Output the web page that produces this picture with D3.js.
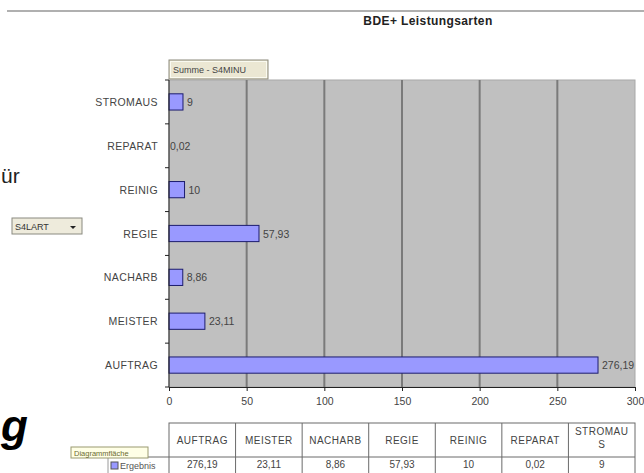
<!DOCTYPE html>
<html><head><meta charset="utf-8">
<script src="https://cdn.jsdelivr.net/npm/d3@7"></script>
<style>
html,body{margin:0;padding:0;background:#fff;overflow:hidden;}
svg{display:block;font-family:"Liberation Sans",Arial,sans-serif;}
</style></head>
<body>
<svg id="c" width="644" height="473"></svg>
<script>
// ---- data ----
const categories = ["AUFTRAG","MEISTER","NACHARB","REGIE","REINIG","REPARAT","STROMAUS"];
const values = [276.19, 23.11, 8.86, 57.93, 10, 0.02, 9];
const valueLabels = ["276,19","23,11","8,86","57,93","10","0,02","9"];
const xTicks = [0, 50, 100, 150, 200, 250, 300];
const title = "BDE+ Leistungsarten";
const fieldButton = "Summe - S4MINU";
const pageButton = "S4LART";
const rowLabel = "Ergebnis";
const tooltipText = "Diagrammfläche";
const sideText = "ür";
const sideLetter = "g";

const svg = d3.select("#c");
const L = 169, R = 635, T = 80, B = 387;

const x = d3.scaleLinear().domain([0, 300]).range([L, R]);
const y = d3.scaleBand().domain(categories.slice().reverse()).range([T, B]).paddingInner(0.63).paddingOuter(0.315);
const yb = d3.scaleBand().domain(categories.slice().reverse()).range([T, B]);

// top rule
svg.append("line").attr("x1",7).attr("x2",644).attr("y1",11).attr("y2",11)
  .attr("stroke","#b0b0b0").attr("stroke-width",2);

// title
svg.append("text").attr("x",428).attr("y",25).attr("text-anchor","middle")
  .attr("font-size",12).attr("font-weight","bold").attr("fill","#222")
  .attr("letter-spacing",0.4).text(title);

// side fragments
svg.append("text").attr("x",1).attr("y",183)
  .attr("font-size",21).attr("fill","#222").text(sideText);
svg.append("text").attr("x",1).attr("y",441)
  .attr("font-size",44).attr("font-weight","bold").attr("font-style","italic")
  .attr("fill","#000").text(sideLetter);

// page field dropdown
const pg = svg.append("g").attr("transform","translate(12,218)");
pg.append("rect").attr("width",70).attr("height",16).attr("fill","#eeebdc")
  .attr("stroke","#8a8a80");
pg.append("text").attr("x",3).attr("y",11.5).attr("font-size",9).attr("fill","#333").text(pageButton);
pg.append("path").attr("d","M58,8 L64,8 L61,11 Z").attr("fill","#222");

// plot background
svg.append("rect").attr("x",L).attr("y",T).attr("width",R-L).attr("height",B-T)
  .attr("fill","#c0c0c0").attr("stroke","#a8a8a8");

// gridlines
svg.append("g").selectAll("line").data(xTicks.filter(d=>d>0 && d<300)).join("line")
  .attr("x1",d=>x(d)).attr("x2",d=>x(d)).attr("y1",T).attr("y2",B)
  .attr("stroke","#7a7a7a").attr("stroke-width",2);

// bars
svg.append("g").selectAll("rect").data(categories).join("rect")
  .attr("x",x(0)).attr("y",d=>y(d))
  .attr("width",(d,i)=>Math.max(0.01, x(values[i])-x(0)))
  .attr("height",y.bandwidth())
  .attr("fill","#9999ff").attr("stroke",(d,i)=>values[i]<0.5?"none":"#1c1c6e").attr("stroke-width",1);

// value labels
svg.append("g").selectAll("text").data(categories).join("text")
  .attr("x",(d,i)=>x(values[i])+ (values[i]<0.5?1:4))
  .attr("y",d=>y(d)+y.bandwidth()/2+4)
  .attr("font-size",10.5).attr("fill","#444").text((d,i)=>valueLabels[i]);

// y axis
const yAxis = svg.append("g").attr("transform",`translate(${L},0)`);
yAxis.append("line").attr("x1",0).attr("x2",0).attr("y1",T).attr("y2",B).attr("stroke","#222");
yAxis.selectAll("line.t").data(categories.concat(["_end"])).join("line").attr("class","t")
  .attr("x1",-4).attr("x2",0)
  .attr("y1",(d,i)=> i<categories.length? yb(categories[categories.length-1-i]) : B)
  .attr("y2",(d,i)=> i<categories.length? yb(categories[categories.length-1-i]) : B)
  .attr("stroke","#222");
yAxis.selectAll("text").data(categories).join("text")
  .attr("x",-11).attr("y",d=>yb(d)+yb.bandwidth()/2+4)
  .attr("text-anchor","end").attr("font-size",10.5).attr("letter-spacing",0.4)
  .attr("fill","#444").text(d=>d);

// x axis
const xa = d3.axisBottom(x).tickValues(xTicks).tickSize(4).tickFormat(d3.format("d"));
const xg = svg.append("g").attr("transform",`translate(0,${B})`).call(xa);
xg.select(".domain").attr("stroke","#222");
xg.selectAll(".tick line").attr("stroke","#222");
xg.selectAll(".tick text").attr("font-size",10.5).attr("fill","#444")
  .attr("font-family","Liberation Sans, Arial, sans-serif").attr("dy","1.05em");

// field button
const fb = svg.append("g").attr("transform","translate(169,60)");
fb.append("rect").attr("width",99).attr("height",19).attr("fill","#ebe7d3").attr("stroke","#8c8a7c");
fb.append("rect").attr("x",1.5).attr("y",1.5).attr("width",96).attr("height",16).attr("fill","none").attr("stroke","#fafaf0");
fb.append("text").attr("x",4).attr("y",13).attr("font-size",9).attr("fill","#444").text(fieldButton);

// data table
const tTop = 423, tMid = 457, tBot = 478;
const colW = (R - L) / categories.length;
const tg = svg.append("g");
tg.append("rect").attr("x",L).attr("y",tTop).attr("width",R-L).attr("height",tBot-tTop)
  .attr("fill","#fff").attr("stroke","#6a6a6a");
tg.append("line").attr("x1",108).attr("x2",R).attr("y1",tMid).attr("y2",tMid).attr("stroke","#6a6a6a");
tg.selectAll("line.c").data(categories.slice(1)).join("line").attr("class","c")
  .attr("x1",(d,i)=>L+(i+1)*colW).attr("x2",(d,i)=>L+(i+1)*colW)
  .attr("y1",tTop).attr("y2",tBot).attr("stroke","#6a6a6a");
tg.append("line").attr("x1",108).attr("x2",108).attr("y1",tMid).attr("y2",tBot).attr("stroke","#9a9a9a");

const heads = tg.selectAll("text.h").data(categories).join("text").attr("class","h")
  .attr("text-anchor","middle").attr("font-size",10).attr("letter-spacing",0.5).attr("fill","#444");
heads.each(function(d,i){
  const t = d3.select(this);
  const cx = L + i*colW + colW/2;
  t.text(d);
  if (this.getComputedTextLength() > colW - 8) {
    t.text(null);
    t.append("tspan").attr("x",cx).attr("y",tTop+12).text(d.slice(0,-1));
    t.append("tspan").attr("x",cx).attr("y",tTop+25).text(d.slice(-1));
  } else {
    t.attr("x",cx).attr("y",tTop+21);
  }
});
tg.selectAll("text.v").data(categories).join("text").attr("class","v")
  .attr("x",(d,i)=>L+i*colW+colW/2).attr("y",tMid+11)
  .attr("text-anchor","middle").attr("font-size",10).attr("fill","#444")
  .text((d,i)=>valueLabels[i]);

// row label (legend key + Ergebnis)
tg.append("rect").attr("x",111).attr("y",462).attr("width",7).attr("height",7)
  .attr("fill","#9999ff").attr("stroke","#555");
tg.append("text").attr("x",120).attr("y",469).attr("font-size",9).attr("fill","#555").text(rowLabel);

// tooltip
const tt = svg.append("g").attr("transform","translate(71,447)");
tt.append("rect").attr("width",77).attr("height",11).attr("fill","#ffffe6").attr("stroke","#9a9a70");
tt.append("text").attr("x",3).attr("y",8.5).attr("font-size",7.5).attr("fill","#6a6a30").text(tooltipText);
</script>
</body></html>
